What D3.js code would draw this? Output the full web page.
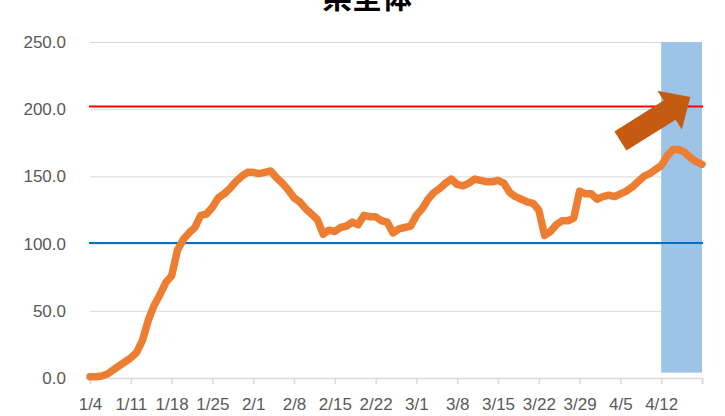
<!DOCTYPE html>
<html>
<head>
<meta charset="utf-8">
<script src="https://cdn.jsdelivr.net/npm/d3@7"></script>
<style>
  body { margin: 0; background: #fff; }
  svg { display: block; font-family: "Noto Sans", sans-serif; }
  .tick text { fill: #595959; font-size: 17px; }
</style>
</head>
<body>
<script>
// Data: daily values from 1/4 to 4/19
var startDate = new Date(Date.UTC(2021, 0, 4));
var values = [1, 1, 1.5, 3, 6, 9, 12, 15, 19, 28,
  43, 54, 62, 71, 76, 95, 103, 108, 112, 121,
  122, 127, 134, 137, 141, 146, 150, 153, 153, 152,
  153, 154, 149, 145, 140, 134, 131, 126, 122, 118,
  107, 110, 109, 112, 113, 116, 114, 121, 120, 120,
  117, 116, 108, 111, 112, 113, 121, 126, 133, 138,
  141, 145, 148, 144, 143, 145, 148, 147, 146, 146,
  147, 145, 138, 135, 133, 131, 130, 125, 106, 109,
  114, 117, 117, 119, 139, 137, 137, 133, 135, 136,
  135, 137, 139, 142, 146, 150, 152, 155, 158, 165,
  170, 170, 168, 164, 161, 159];
var xTickLabels = ["1/4", "1/11", "1/18", "1/25", "2/1", "2/8", "2/15", "2/22",
  "3/1", "3/8", "3/15", "3/22", "3/29", "4/5", "4/12", ""];
var yTicks = [0, 50, 100, 150, 200, 250];
var refHigh = 202;     // red line
var refLow = 100.5;    // blue line
var bandRange = [98, 105];   // shaded last week (day offsets)
var bandValues = [4, 250];
var arrowFrom = [91.7, 176.3];  // [day offset, value]
var arrowTo = [103, 209];
var title = "県全体";

var margin = {top: 42, right: 23, bottom: 38, left: 90},
    width = 725 - margin.left - margin.right,
    height = 416 - margin.top - margin.bottom;

function day(i) { return d3.utcDay.offset(startDate, i); }

var dates = values.map(function(v, i) { return day(i); });

var xScale = d3.scaleUtc()
    .domain([dates[0], dates[dates.length - 1]])
    .range([0, width]);
var yScale = d3.scaleLinear().domain([0, 250]).range([height, 0]);

var svg = d3.select("body").append("svg")
    .attr("width", 725)
    .attr("height", 416);

// title: its top is cut off in the original too
svg.append("text")
    .attr("x", 367)
    .attr("y", 8)
    .attr("text-anchor", "middle")
    .style("font-family", "'Noto Sans CJK JP', sans-serif")
    .style("font-size", "30px")
    .style("font-weight", "bold")
    .style("fill", "#000")
    .text(title);

var g = svg.append("g")
    .attr("transform", "translate(" + margin.left + "," + margin.top + ")");

// gridlines + y labels
var yAxis = d3.axisLeft(yScale)
    .tickValues(yTicks)
    .tickSize(-width)
    .tickPadding(24)
    .tickFormat(d3.format(".1f"));

g.append("g")
    .attr("class", "y axis")
    .call(yAxis)
    .call(function(s) {
      s.select(".domain").remove();
      s.selectAll(".tick line").attr("stroke", "#d9d9d9").attr("stroke-width", 1);
      s.selectAll(".tick").filter(function(d) { return d === 0; }).select("line").remove();
    });

// shaded band
g.append("rect")
    .attr("x", xScale(day(bandRange[0])))
    .attr("width", xScale(day(bandRange[1])) - xScale(day(bandRange[0])))
    .attr("y", yScale(bandValues[1]))
    .attr("height", yScale(bandValues[0]) - yScale(bandValues[1]))
    .attr("fill", "#9dc3e6");

// x axis
var xAxis = d3.axisBottom(xScale)
    .tickValues(xTickLabels.map(function(t, k) { return day(7 * k); }))
    .tickSize(6)
    .tickPadding(14)
    .tickFormat(function(d, k) { return xTickLabels[k]; });

g.append("g")
    .attr("class", "x axis")
    .attr("transform", "translate(0," + height + ")")
    .call(xAxis)
    .call(function(s) {
      s.select(".domain").attr("stroke", "#d9d9d9").attr("stroke-width", 1.5);
      s.selectAll(".tick line").attr("stroke", "#d9d9d9").attr("stroke-width", 1.5);
    });

// reference lines
[[refHigh, "#ff0000"], [refLow, "#0070c0"]].forEach(function(r) {
  g.append("line")
      .attr("x1", -1)
      .attr("x2", width + 1)
      .attr("y1", yScale(r[0]))
      .attr("y2", yScale(r[0]))
      .attr("stroke", r[1])
      .attr("stroke-width", 2);
});

// main line
var line = d3.line()
    .x(function(d, i) { return xScale(dates[i]); })
    .y(function(d) { return yScale(d); });

g.append("path")
    .datum(values)
    .attr("fill", "none")
    .attr("stroke", "#ed7d31")
    .attr("stroke-width", 7.5)
    .attr("stroke-linejoin", "round")
    .attr("stroke-linecap", "round")
    .attr("d", line);

// arrow annotation
var ax0 = xScale(day(arrowFrom[0])), ay0 = yScale(arrowFrom[1]);
var ax1 = xScale(day(arrowTo[0])), ay1 = yScale(arrowTo[1]);
var len = Math.hypot(ax1 - ax0, ay1 - ay0);
var angle = Math.atan2(ay1 - ay0, ax1 - ax0) * 180 / Math.PI;
var shaftW = 22.5, headW = 46, headL = 24.5;
var pts = [
  [0, -shaftW / 2], [len - headL, -shaftW / 2], [len - headL, -headW / 2],
  [len, 0],
  [len - headL, headW / 2], [len - headL, shaftW / 2], [0, shaftW / 2]
];
g.append("polygon")
    .attr("points", pts.map(function(p) { return p.join(","); }).join(" "))
    .attr("transform", "translate(" + ax0 + "," + ay0 + ") rotate(" + angle + ")")
    .attr("fill", "#c55a11");
</script>
</body>
</html>
